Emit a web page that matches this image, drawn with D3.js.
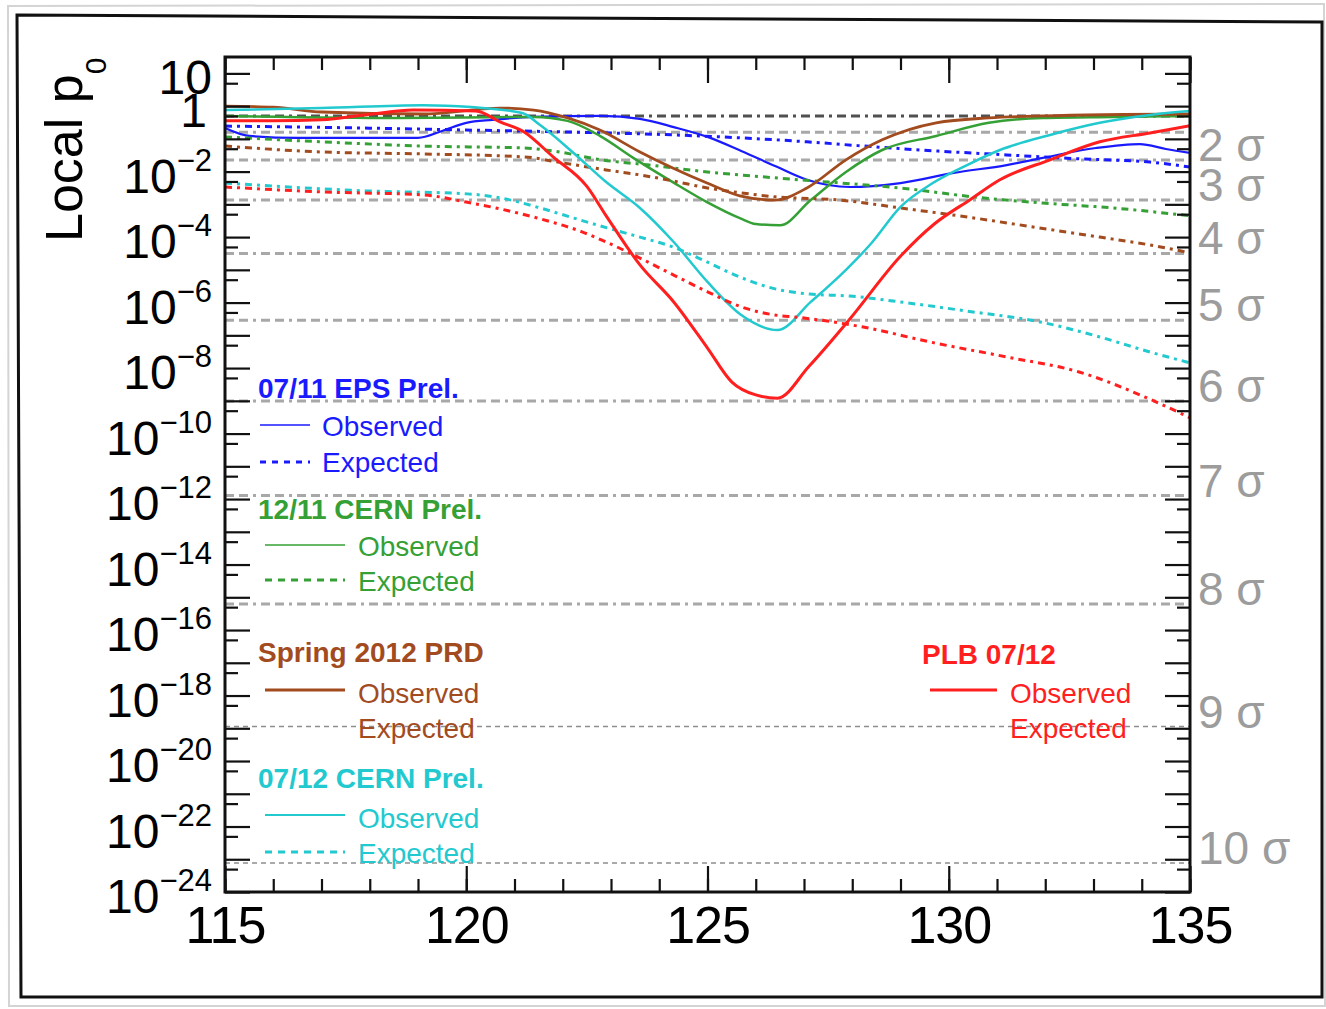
<!DOCTYPE html>
<html><head><meta charset="utf-8">
<script src="https://cdn.jsdelivr.net/npm/d3@7"></script>
<style>body{margin:0;background:#fff}</style>
</head><body>
<svg id="chart" width="1326" height="1009"></svg>
<script>
// ---------------- DATA (log10 of local p0 vs mass in GeV) ----------------
const blueObsMass = [115.0,115.5,116.5,119.0,119.5,120.0,120.55,121.4,122.8,123.6,124.3,125.0,125.7,126.4,127.06,127.95,129.0,130.1,131.2,131.95,133.05,133.96,134.5,135.0];
const blueObsLogP = [-0.67,-0.91,-0.97,-0.97,-0.76,-0.51,-0.42,-0.33,-0.30,-0.39,-0.64,-0.94,-1.37,-1.83,-2.25,-2.47,-2.35,-2.04,-1.80,-1.58,-1.28,-1.16,-1.31,-1.43];
const blueExpMass = [115.0,117.9,120.0,122.1,124.3,125.7,127.06,128.24,129.74,131.2,132.7,134.17,135.0];
const blueExpLogP = [-0.61,-0.67,-0.73,-0.79,-0.88,-0.97,-1.09,-1.22,-1.37,-1.49,-1.61,-1.71,-1.86];

const greenObsMass = [115.0,118.6,121.4,122.1,122.77,123.46,124.28,124.99,125.67,126.0,126.5,127.14,127.87,128.62,129.74,130.83,131.95,133.4,135.0];
const greenObsLogP = [-0.30,-0.36,-0.33,-0.45,-0.91,-1.58,-2.32,-2.93,-3.42,-3.60,-3.64,-2.87,-2.01,-1.34,-0.91,-0.51,-0.36,-0.33,-0.30];
const greenExpMass = [115.0,117.0,119.1,121.2,121.8,122.8,123.8,125.0,126.4,127.5,129.0,130.5,131.95,133.4,135.0];
const greenExpLogP = [-0.94,-1.09,-1.22,-1.28,-1.37,-1.64,-1.80,-2.01,-2.19,-2.32,-2.50,-2.77,-2.96,-3.11,-3.35];

const brownObsMass = [115.0,116.0,117.0,119.1,120.7,121.4,122.1,122.77,123.6,124.28,124.99,125.67,126.4,127.06,127.87,128.62,129.74,130.83,131.95,135.0];
const brownObsLogP = [0.0,-0.03,-0.18,-0.24,-0.06,-0.12,-0.36,-0.73,-1.40,-1.89,-2.35,-2.74,-2.87,-2.50,-1.64,-1.03,-0.51,-0.36,-0.30,-0.24];
const brownExpMass = [115.0,117.0,119.1,121.2,121.9,122.9,123.6,124.3,125.0,125.7,126.4,127.75,129.0,130.4,131.75,133.13,134.17,135.0];
const brownExpLogP = [-1.22,-1.40,-1.46,-1.55,-1.71,-1.95,-2.10,-2.29,-2.50,-2.65,-2.77,-2.87,-3.11,-3.39,-3.69,-4.00,-4.24,-4.48];

const cyanObsMass = [115.0,117.0,119.1,120.1,121.16,121.53,122.2,122.9,123.6,124.3,125.0,125.7,126.45,127.14,127.87,128.4,129.0,129.67,130.38,131.06,132.1,133.13,134.17,135.0];
const cyanObsLogP = [-0.12,-0.06,0.03,-0.03,-0.21,-0.58,-1.40,-2.32,-3.11,-4.15,-5.37,-6.38,-6.84,-5.98,-5.00,-4.18,-3.08,-2.35,-1.80,-1.34,-0.88,-0.51,-0.27,-0.15];
const cyanExpMass = [115.0,117.94,120.02,120.7,121.53,122.21,122.92,123.6,124.28,124.99,125.67,126.4,127.12,127.95,128.99,130.38,131.89,133.13,134.17,135.0];
const cyanExpLogP = [-2.35,-2.59,-2.68,-2.80,-3.11,-3.41,-3.72,-4.00,-4.30,-4.76,-5.22,-5.58,-5.74,-5.80,-5.98,-6.26,-6.59,-7.05,-7.51,-7.84];

const redObsMass = [115.0,116.0,117.0,118.0,118.9,120.2,120.7,121.2,121.8,122.5,122.9,123.6,124.3,125.0,125.5,126.0,126.45,127.1,127.95,128.99,129.7,130.45,131.06,132.1,133.13,134.17,135.0];
const redObsLogP = [-0.45,-0.45,-0.42,-0.25,-0.12,-0.15,-0.48,-0.79,-1.55,-2.45,-3.35,-4.85,-5.98,-7.39,-8.42,-8.82,-8.92,-7.95,-6.50,-4.60,-3.60,-2.85,-2.25,-1.64,-1.09,-0.82,-0.60];
const redExpMass = [115.0,117.0,119.1,120.0,121.4,122.4,122.9,123.6,124.3,125.0,125.7,126.5,126.8,128.2,129.7,131.2,132.7,134.2,135.0];
const redExpLogP = [-2.47,-2.62,-2.71,-2.93,-3.39,-3.84,-4.15,-4.64,-5.16,-5.67,-6.13,-6.40,-6.44,-6.74,-7.23,-7.66,-8.12,-8.97,-9.52];

const sigmaN = [0,1,2,3,4,5,6,7,8,9,10];
const sigmaP = [0.5,0.1587,0.02275,1.35e-3,3.167e-5,2.867e-7,9.866e-10,1.280e-12,6.221e-16,1.129e-19,7.62e-24];
const sigmaLabels = ["","","2 σ","3 σ","4 σ","5 σ","6 σ","7 σ","8 σ","9 σ","10 σ"];

const xMajorTicks = [115,120,125,130,135];
const xMinorTicks = d3.range(115,136,1);
const yLabelExponents = [1,0,-2,-4,-6,-8,-10,-12,-14,-16,-18,-20,-22,-24];
const yAxisTitle = "Local p";
const legendTitles = ["07/11 EPS Prel.","12/11 CERN Prel.","Spring 2012 PRD","07/12 CERN Prel.","PLB 07/12"];
const legendObs = "Observed", legendExp = "Expected";

// ---------------- STYLE ----------------
const C = {blue:"#1a1aff", green:"#35a035", brown:"#a24b1f", cyan:"#22c9cf", red:"#ff1f1f"};
const FONT = "'Liberation Sans', Arial, Helvetica, sans-serif";
const L = {left:225, right:1190, top:57, bottom:892};

const svg = d3.select("#chart");
svg.append("rect").attr("width",1326).attr("height",1009).attr("fill","#fff");

// outer sketch frames
svg.append("path").attr("d","M8,6 L1324,4 L1325,1006 L9,1006 Z").attr("fill","none").attr("stroke","#d4d4d4").attr("stroke-width",2);
svg.append("path").attr("d","M17,15 L1322,22 L1322,997 L21,997 Z").attr("fill","none").attr("stroke","#111").attr("stroke-width",3);

const x = d3.scaleLinear().domain([115,135]).range([L.left,L.right]);
const y = d3.scaleLog().domain([1e-24, Math.pow(10,1.5)]).range([L.bottom,L.top]);

svg.append("clipPath").attr("id","plotclip").append("rect")
  .attr("x",L.left).attr("y",L.top).attr("width",L.right-L.left).attr("height",L.bottom-L.top);

// sigma reference lines
const gs = svg.append("g").attr("clip-path","url(#plotclip)");
sigmaN.forEach((n,i)=>{
  const yy = y(sigmaP[i]);
  const thin = n>=9;
  gs.append("line").attr("x1",L.left).attr("x2",L.right).attr("y1",yy).attr("y2",yy)
    .attr("stroke", n===0 ? "#505050" : (thin ? "#8e8e8e" : "#a8a8a8"))
    .attr("stroke-width", thin ? 1.5 : 3)
    .attr("stroke-dasharray", thin ? "5,4" : "9,5,9,5,3,5");
});

// curves
const line = d3.line().x(d=>x(d[0])).y(d=>y(Math.pow(10,d[1]))).curve(d3.curveMonotoneX);
const series = [
  {m:blueExpMass,  l:blueExpLogP,  c:C.blue,  w:3,   dash:"7,5,3,5"},
  {m:blueObsMass,  l:blueObsLogP,  c:C.blue,  w:2.2, dash:null},
  {m:greenExpMass, l:greenExpLogP, c:C.green, w:3,   dash:"7,5,3,5"},
  {m:greenObsMass, l:greenObsLogP, c:C.green, w:2.5, dash:null},
  {m:brownExpMass, l:brownExpLogP, c:C.brown, w:3,   dash:"7,5,3,5"},
  {m:brownObsMass, l:brownObsLogP, c:C.brown, w:2.8, dash:null},
  {m:cyanExpMass,  l:cyanExpLogP,  c:C.cyan,  w:3,   dash:"7,5,3,5"},
  {m:cyanObsMass,  l:cyanObsLogP,  c:C.cyan,  w:2.5, dash:null},
  {m:redExpMass,   l:redExpLogP,   c:C.red,   w:3,   dash:"7,5,3,5"},
  {m:redObsMass,   l:redObsLogP,   c:C.red,   w:3,   dash:null}
];
const gc = svg.append("g").attr("clip-path","url(#plotclip)");
series.forEach(s=>{
  gc.append("path").datum(s.m.map((mm,i)=>[mm,s.l[i]]))
    .attr("d",line).attr("fill","none").attr("stroke",s.c).attr("stroke-width",s.w)
    .attr("stroke-dasharray",s.dash).attr("stroke-linejoin","round");
});

// axes
function decor(g){
  g.select(".domain").remove();
  g.selectAll(".tick line").attr("stroke","#111").attr("stroke-width",2.2);
}
svg.append("g").attr("transform",`translate(0,${L.bottom})`)
  .call(d3.axisBottom(x).tickValues(xMinorTicks).tickSize(-13).tickFormat("")).call(decor);
const xb = svg.append("g").attr("transform",`translate(0,${L.bottom})`)
  .call(d3.axisBottom(x).tickValues(xMajorTicks).tickSize(-26).tickPadding(14).tickFormat(d=>String(d))).call(decor);
xb.selectAll("text").attr("font-family",FONT).attr("font-size",52).attr("fill","#000").attr("letter-spacing",-1);
svg.append("g").attr("transform",`translate(0,${L.top})`)
  .call(d3.axisTop(x).tickValues(xMinorTicks).tickSize(-13).tickFormat("")).call(decor);
svg.append("g").attr("transform",`translate(0,${L.top})`)
  .call(d3.axisTop(x).tickValues(xMajorTicks).tickSize(-26).tickFormat("")).call(decor);

const yDecades = d3.range(-24,2).map(e=>Math.pow(10,e));
const yHalves = d3.range(-24,1).map(e=>5*Math.pow(10,e));
svg.append("g").attr("transform",`translate(${L.left},0)`)
  .call(d3.axisLeft(y).tickValues(yDecades).tickSize(-25).tickFormat("")).call(decor);
svg.append("g").attr("transform",`translate(${L.left},0)`)
  .call(d3.axisLeft(y).tickValues(yHalves).tickSize(-13).tickFormat("")).call(decor);
svg.append("g").attr("transform",`translate(${L.right},0)`)
  .call(d3.axisRight(y).tickValues(yDecades).tickSize(-25).tickFormat("")).call(decor);
svg.append("g").attr("transform",`translate(${L.right},0)`)
  .call(d3.axisRight(y).tickValues(yHalves).tickSize(-13).tickFormat("")).call(decor);

// y tick labels
yLabelExponents.forEach(e=>{
  const t = svg.append("text").attr("x", e===0 ? 207 : 212).attr("y", y(Math.pow(10,e))+21)
    .attr("text-anchor","end").attr("font-family",FONT).attr("font-size",48).attr("fill","#000");
  if(e===1) t.text("10");
  else if(e===0) t.text("1");
  else {
    t.append("tspan").text("10");
    t.append("tspan").attr("dy",-22).attr("font-size",31).text("\u2212"+Math.abs(e));
  }
});

// y axis title
const yt = svg.append("text").attr("transform","translate(82,242) rotate(-90)")
  .attr("font-family",FONT).attr("font-size",52).attr("fill","#000");
yt.append("tspan").text(yAxisTitle);
yt.append("tspan").attr("dy",24).attr("font-size",30).text("0");

// sigma labels
sigmaN.forEach((n,i)=>{
  if(!sigmaLabels[i]) return;
  svg.append("text").attr("x",1198).attr("y",y(sigmaP[i])+1)
    .attr("font-family",FONT).attr("font-size",46).attr("fill","#9c9c9c").text(sigmaLabels[i]);
});

// frame
svg.append("rect").attr("x",L.left).attr("y",L.top).attr("width",L.right-L.left).attr("height",L.bottom-L.top)
  .attr("fill","none").attr("stroke","#111").attr("stroke-width",3);

// legend
const gl = svg.append("g").attr("font-family",FONT).attr("font-size",28);
function ltitle(txt,xx,yy,c){ gl.append("text").attr("x",xx).attr("y",yy).attr("font-weight","bold").attr("fill",c).text(txt); }
function litem(txt,xx,yy,c){ gl.append("text").attr("x",xx).attr("y",yy).attr("fill",c).text(txt); }
function lline(x1,x2,yy,c,w,dash){ gl.append("line").attr("x1",x1).attr("x2",x2).attr("y1",yy).attr("y2",yy)
  .attr("stroke",c).attr("stroke-width",w).attr("stroke-dasharray",dash); }

ltitle(legendTitles[0],258,398,C.blue);
lline(260,310,425,C.blue,1.6,null); litem(legendObs,322,436,C.blue);
lline(260,310,462,C.blue,3,"6,6"); litem(legendExp,322,472,C.blue);

ltitle(legendTitles[1],258,519,C.green);
lline(265,345,545,C.green,1.6,null); litem(legendObs,358,556,C.green);
lline(265,345,580,C.green,3,"7,6"); litem(legendExp,358,591,C.green);

ltitle(legendTitles[2],258,662,C.brown);
lline(265,345,690,C.brown,3,null); litem(legendObs,358,703,C.brown);
litem(legendExp,358,738,C.brown);

ltitle(legendTitles[3],258,788,C.cyan);
lline(265,345,815,C.cyan,2,null); litem(legendObs,358,828,C.cyan);
lline(265,345,852,C.cyan,3,"7,6"); litem(legendExp,358,863,C.cyan);

ltitle(legendTitles[4],922,664,C.red);
lline(930,997,690,C.red,3,null); litem(legendObs,1010,703,C.red);
litem(legendExp,1010,738,C.red);
</script>
</body></html>
